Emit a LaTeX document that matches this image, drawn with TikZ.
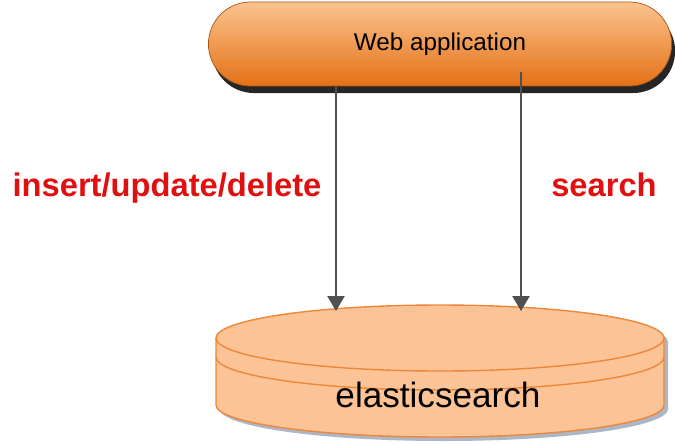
\documentclass[tikz,border=0pt]{standalone}
\usepackage{fontspec}
\setmainfont{Liberation Sans}
\usepackage{tikz}
\usetikzlibrary{shapes.misc, arrows.meta, positioning, shadows}
\definecolor{pillTop}{RGB}{250, 196, 142}
\definecolor{pillMid}{RGB}{242, 152, 78}
\definecolor{pillBot}{RGB}{228, 112, 22}
\definecolor{pillEdge}{RGB}{170, 85, 20}
\definecolor{dbFill}{RGB}{252, 196, 150}
\definecolor{dbEdge}{RGB}{238, 135, 55}
\definecolor{dbShadow}{RGB}{172, 182, 198}
\definecolor{arrowGray}{RGB}{80, 80, 80}
\definecolor{labelRed}{RGB}{225, 16, 16}

\begin{document}
\begin{tikzpicture}[
    x=0.02cm, y=0.02cm,
    app/.style={rounded rectangle, minimum width=9.5cm, minimum height=1.68cm, draw=pillEdge, thin, top color=pillTop, middle color=pillMid, bottom color=pillBot, font=\fontsize{13.8}{16}\selectfont, drop shadow={shadow xshift=2pt, shadow yshift=-4pt, opacity=0.85, fill=black}},
    dbtext/.style={font=\fontsize{20}{24}\selectfont, inner sep=0pt},
    oplabel/.style={font=\fontsize{18.6}{22}\selectfont\bfseries, text=labelRed, inner sep=0pt},
    arrow/.style={-{Triangle[length=3mm, width=3.4mm]}, line width=1.4pt, arrowGray}
]
    \useasboundingbox[fill=white] (0,0) rectangle (675,-444);

    % Database
    \fill[dbShadow] (220,-342) -- (220,-409) arc[start angle=180, end angle=360, x radius=224, y radius=32] -- (668,-342) arc[start angle=0, end angle=180, x radius=224, y radius=33] -- cycle;
    \filldraw[fill=dbFill, draw=dbEdge, thick] (216,-338) -- (216,-405) arc[start angle=180, end angle=360, x radius=224, y radius=32] -- (664,-338) arc[start angle=0, end angle=180, x radius=224, y radius=33] -- cycle;
    \draw[dbEdge, thick] (216,-338) arc[start angle=180, end angle=360, x radius=224, y radius=33];
    \draw[dbEdge, thick] (216,-357) arc[start angle=180, end angle=360, x radius=224, y radius=33];
    \node[dbtext, anchor=base] (es) at (438,-407) {elasticsearch};
    \coordinate (esWrite) at (336,-311);
    \coordinate (esSearch) at (521,-311);

    % Nodes
    \node[app] (web) at (440,-44) {Web application};
    \node[oplabel, anchor=base] (write) at (167,-196) {insert/update/delete};
    \node[oplabel, anchor=base] (search) at (604,-196) {search};

    % Links
    \draw[arrow] (web.south -| esWrite) -- (esWrite);
    \draw[arrow] ([yshift=8pt]web.south -| esSearch) -- (esSearch);
\end{tikzpicture}
\end{document}
